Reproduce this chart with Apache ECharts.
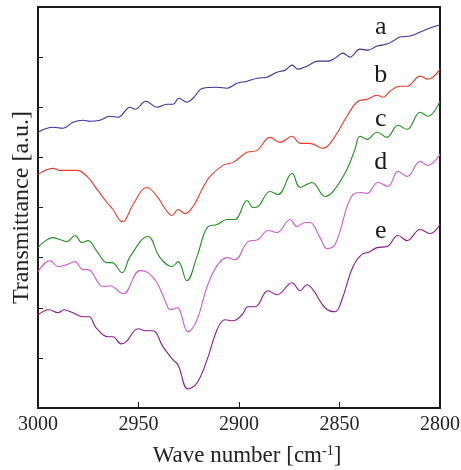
<!DOCTYPE html>
<html>
<head>
<meta charset="utf-8">
<script src="https://cdn.jsdelivr.net/npm/echarts@6/dist/echarts.min.js"></script>
<style>html,body{margin:0;padding:0;background:#fff}#c{width:461px;height:470px}</style>
</head>
<body>
<div id="c"></div>
<script>
const xTicks = [3000, 2950, 2900, 2850, 2800];
const names = ['a', 'b', 'c', 'd', 'e'];
const colors = ['#3a2f98', '#ee3a2a', '#1f8f1f', '#cc5ccc', '#8a1a8a'];

const seriesA = [[3000,5.50],[2992.5,5.60],[2987.6,5.58],[2982.6,5.70],[2977.6,5.74],[2974.1,5.72],[2969.2,5.74],[2964.2,5.82],[2960.2,5.80],[2954.2,6.00],[2951.7,5.96],[2946.3,6.12],[2940.8,6.00],[2935.8,6.06],[2932.8,6.06],[2929.9,6.18],[2925.9,6.10],[2922.9,6.18],[2917.9,6.38],[2910.9,6.40],[2906.0,6.38],[2901.0,6.48],[2896.0,6.52],[2891.0,6.58],[2886.1,6.60],[2881.1,6.70],[2877.1,6.74],[2873.6,6.84],[2870.6,6.76],[2866.2,6.82],[2860.7,6.92],[2855.7,6.92],[2852.2,6.98],[2848.3,7.08],[2844.8,7.00],[2839.8,7.16],[2835.8,7.14],[2831.3,7.22],[2826.4,7.26],[2823.4,7.32],[2819.9,7.40],[2814.9,7.42],[2809.9,7.50],[2805.0,7.58],[2800,7.64]];

const seriesB = [[3000,4.66],[2992.5,4.78],[2989.1,4.74],[2980.6,4.74],[2975.6,4.62],[2970.6,4.36],[2965.7,4.10],[2962.7,3.96],[2958.2,3.72],[2956.7,3.74],[2952.7,4.06],[2945.8,4.40],[2940.8,4.22],[2935.8,3.92],[2933.3,3.84],[2930.3,3.96],[2926.9,3.88],[2922.9,4.02],[2918.4,4.36],[2914.4,4.62],[2908.0,4.84],[2903.0,4.90],[2896.0,5.10],[2891.0,5.14],[2884.6,5.40],[2879.6,5.30],[2873.6,5.42],[2869.6,5.28],[2864.7,5.28],[2858.2,5.18],[2853.2,5.36],[2846.3,5.82],[2840.8,6.12],[2836.3,6.16],[2831.3,6.24],[2828.4,6.20],[2824.9,6.32],[2819.9,6.42],[2816.4,6.42],[2809.9,6.62],[2806.0,6.56],[2800,6.76]];

const seriesC = [[3000,3.20],[2997.5,3.30],[2992.5,3.40],[2989.1,3.36],[2985.6,3.32],[2981.6,3.44],[2978.1,3.30],[2975.1,3.34],[2970.6,3.12],[2965.7,2.90],[2963.2,2.90],[2958.2,2.70],[2954.2,3.02],[2945.3,3.42],[2939.3,3.00],[2933.3,2.82],[2930.3,2.92],[2925.9,2.54],[2920.9,3.02],[2915.4,3.62],[2910.9,3.66],[2906.0,3.76],[2902.0,3.76],[2896.0,4.14],[2893.0,4.00],[2890.5,4.02],[2884.6,4.32],[2880.6,4.26],[2873.6,4.68],[2869.6,4.40],[2863.7,4.50],[2857.2,4.22],[2853.2,4.32],[2846.3,4.76],[2842.3,5.16],[2839.8,5.42],[2836.3,5.36],[2831.3,5.50],[2826.4,5.40],[2820.9,5.64],[2816.4,5.56],[2809.9,5.90],[2806.0,5.82],[2800,6.12]];

const seriesD = [[3000,2.72],[2994.0,2.94],[2990.0,2.82],[2985.6,2.86],[2981.6,2.92],[2977.6,2.76],[2975.1,2.76],[2967.7,2.42],[2964.2,2.44],[2957.7,2.28],[2949.3,2.74],[2945.3,2.70],[2940.8,2.50],[2935.3,2.00],[2934.3,1.96],[2930.8,2.00],[2925.4,1.52],[2920.9,1.76],[2915.9,2.42],[2910.9,2.84],[2906.0,3.00],[2902.0,2.96],[2895.5,3.32],[2890.5,3.36],[2885.6,3.54],[2881.1,3.50],[2874.6,3.76],[2871.1,3.62],[2867.2,3.70],[2864.7,3.70],[2859.7,3.40],[2856.2,3.18],[2852.2,3.26],[2843.3,4.26],[2838.8,4.30],[2836.3,4.28],[2830.9,4.50],[2825.9,4.42],[2820.9,4.72],[2816.4,4.62],[2809.9,4.92],[2806.0,4.84],[2800,5.06]];

const seriesE = [[3000,1.86],[2994.5,1.96],[2990.0,1.90],[2987.1,1.96],[2982.6,1.90],[2977.6,1.82],[2974.6,1.82],[2971.1,1.60],[2965.2,1.42],[2962.7,1.42],[2958.7,1.28],[2956.2,1.32],[2950.2,1.58],[2946.3,1.54],[2942.8,1.54],[2937.8,1.22],[2932.8,0.96],[2930.3,0.86],[2925.4,0.38],[2920.9,0.50],[2915.9,0.96],[2910.9,1.56],[2907.0,1.76],[2903.0,1.74],[2898.5,1.86],[2895.5,2.02],[2892.0,2.02],[2885.6,2.34],[2881.1,2.26],[2873.6,2.50],[2869.6,2.34],[2866.2,2.46],[2863.2,2.36],[2857.2,2.00],[2852.2,1.92],[2848.8,2.16],[2843.3,2.82],[2838.3,3.08],[2835.8,3.10],[2831.3,3.20],[2826.4,3.22],[2820.9,3.44],[2816.4,3.34],[2809.9,3.56],[2805.0,3.48],[2800,3.66]];

const labelX = 2829.5;
const labelY = [7.6, 6.64, 5.76, 4.9, 3.52];

const allSeries = [seriesA, seriesB, seriesC, seriesD, seriesE];
const serif = '"Liberation Serif", "DejaVu Serif", serif';

const chart = echarts.init(document.getElementById('c'), null, {renderer: 'canvas'});
chart.setOption({
  animation: false,
  backgroundColor: '#fff',
  grid: {left: 38, right: 21, top: 7, bottom: 62, containLabel: false, outerBoundsMode: 'none',
    show: true, borderColor: '#1a1a1a', borderWidth: 2, backgroundColor: 'transparent'},
  xAxis: {
    type: 'value', min: 2800, max: 3000, interval: 50, inverse: true,
    axisLine: {show: true, lineStyle: {color: '#1a1a1a', width: 2}},
    axisTick: {show: true, inside: true, length: 6, lineStyle: {color: '#1a1a1a', width: 1}},
    axisLabel: {color: '#222', fontFamily: serif, fontSize: 20, margin: 7,
      formatter: v => xTicks.includes(v) ? String(v) : ''},
    splitLine: {show: false},
    name: '{n|Wave number [cm}{s|-1}{n|]}',
    nameLocation: 'middle', nameGap: 36,
    nameTextStyle: {padding: [0, 0, 0, 16], rich: {n: {fontFamily: serif, fontSize: 23, color: '#222'}, s: {fontFamily: serif, fontSize: 14, color: '#222', verticalAlign: 'top', padding: [0, 0, 9, 0]}}}
  },
  yAxis: {
    type: 'value', min: 0, max: 8, interval: 1,
    axisLine: {show: true, lineStyle: {color: '#1a1a1a', width: 2}},
    axisTick: {show: true, inside: true, length: 5, lineStyle: {color: '#1a1a1a', width: 1}},
    axisLabel: {show: false},
    splitLine: {show: false},
    name: 'Transmittance [a.u.]', nameLocation: 'middle', nameGap: 4,
    nameTextStyle: {fontFamily: serif, fontSize: 24, color: '#222'}
  },
  series: allSeries.map((d, i) => ({
    type: 'line', name: names[i], data: d, smooth: 0.4, showSymbol: false,
    lineStyle: {color: colors[i], width: 1.1}, itemStyle: {color: colors[i]}
  }))
});

const g = names.map((n, i) => {
  const p = chart.convertToPixel({gridIndex: 0}, [labelX, labelY[i]]);
  return {type: 'text', x: p[0], y: p[1], style: {text: n, fill: '#1a1a1a', font: '26px ' + serif, textAlign: 'center', textVerticalAlign: 'middle'}};
});
chart.setOption({graphic: g});
</script>
</body>
</html>
